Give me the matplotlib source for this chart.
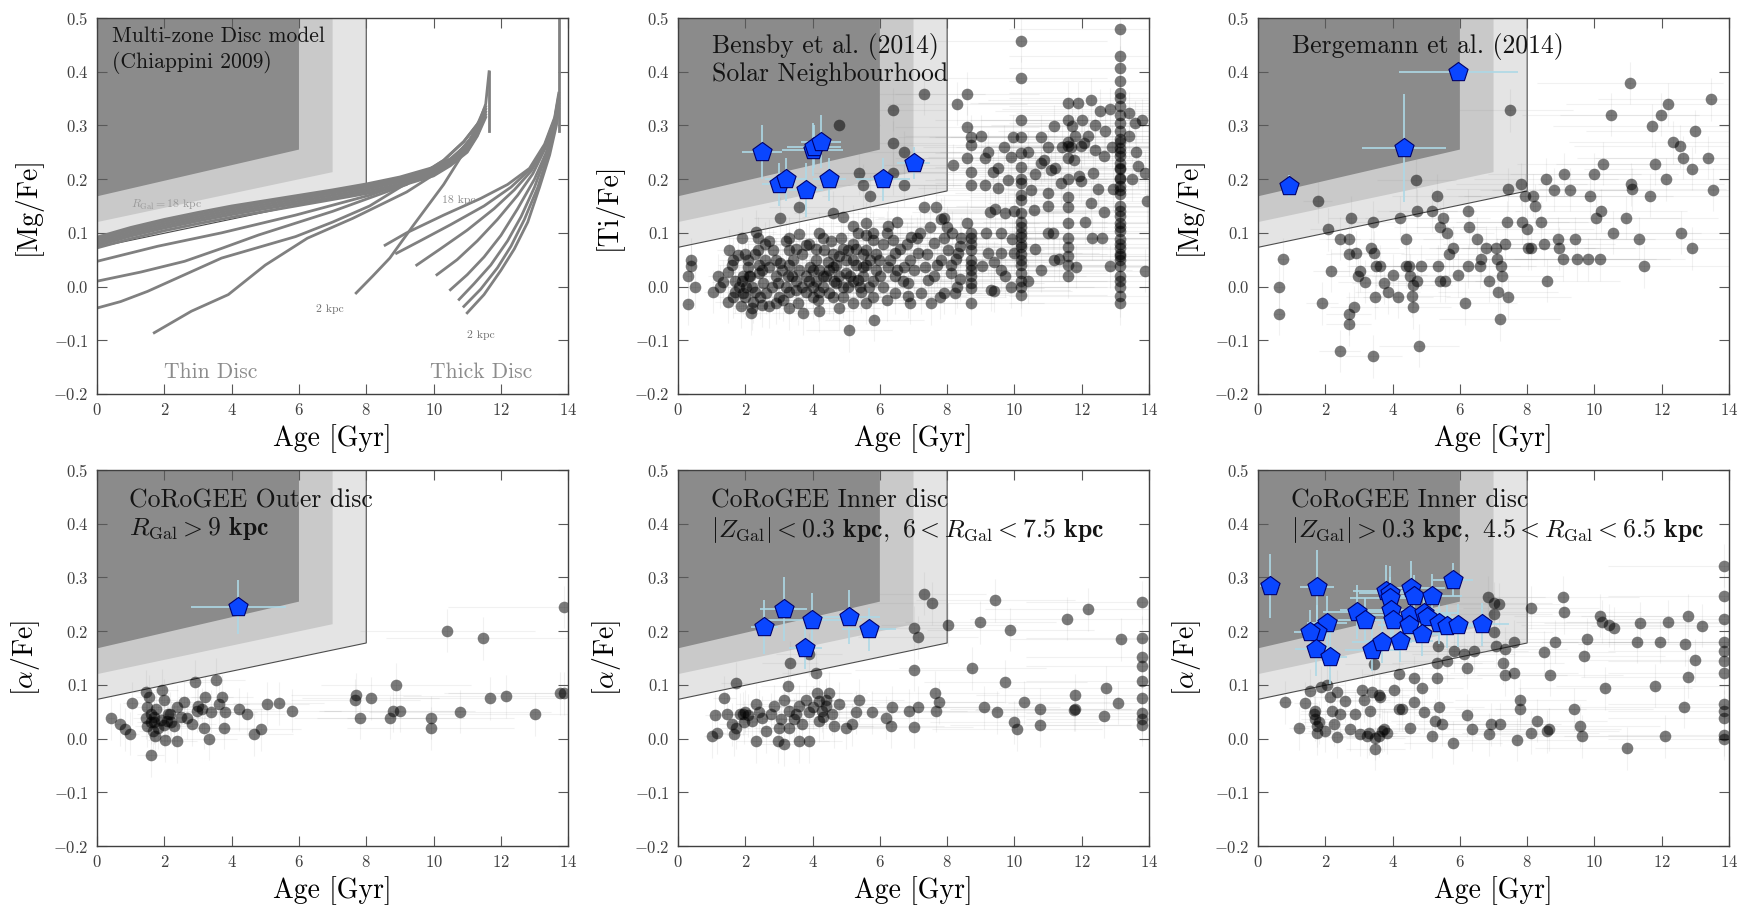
import matplotlib
matplotlib.use('Agg')
import matplotlib.pyplot as plt
from matplotlib.patches import Polygon

plt.rcParams['font.family'] = 'cmr10'
plt.rcParams['mathtext.fontset'] = 'cm'
plt.rcParams['axes.formatter.use_mathtext'] = True

# ---------------------------------------------------------------- data
# shaded "young alpha-rich" boxes: (age, abundance) corners
shade_light = [(0, 0.073), (8, 0.178), (8, 0.5), (0, 0.5)]
shade_mid = [(0, 0.12), (7, 0.213), (7, 0.5), (0, 0.5)]
shade_dark = [(0, 0.168), (6, 0.255), (6, 0.5), (0, 0.5)]

# Chiappini (2009) model tracks
thin_disc_age = [
    [0, 1, 2, 3, 4, 5, 6, 7, 8, 9, 10, 10.5, 11, 11.3, 11.55, 11.65],
    [0, 1, 2, 3, 4, 5, 6, 7, 8, 9, 10, 10.5, 11, 11.3, 11.55],
    [0, 1, 2, 3, 4, 5, 6, 7, 8, 9, 10, 10.5, 11, 11.3, 11.55],
    [0, 1, 2, 3, 4, 5, 6, 7, 8, 9, 10, 10.5, 11, 11.3, 11.55],
    [0, 1, 2, 3, 4, 5, 6, 7, 8, 9, 10, 10.5, 11, 11.3, 11.55],
    [0, 1, 2, 3, 4, 5, 6, 7, 8, 9, 10, 10.5, 11, 11.3, 11.55],
    [0, 1.8, 3.7, 5.9, 8.1, 9.8, 10.6, 11.1, 11.5],
    [0, 1.3, 2.6, 3.7, 4.8, 5.9, 7.0, 8.1, 9.2, 10.3, 10.9, 11.4],
    [0, 0.7, 1.5, 2.6, 3.7, 4.8, 5.9, 7.0, 8.1, 9.4, 10.3, 10.9, 11.4],
    [1.7, 2.8, 3.9, 5.0, 6.25, 7.6, 9.2, 10.3, 10.9, 11.4],
    [7.7, 8.2, 8.7, 9.4, 10.3, 10.8, 11.2, 11.5],
    [11.65, 11.65],
]
thin_disc_mgfe = [
    [0.092, 0.110, 0.125, 0.138, 0.150, 0.160, 0.170, 0.180, 0.191, 0.204, 0.222, 0.238, 0.265, 0.295, 0.34, 0.40],
    [0.088, 0.106, 0.121, 0.134, 0.146, 0.157, 0.167, 0.177, 0.188, 0.201, 0.219, 0.236, 0.262, 0.292, 0.335],
    [0.084, 0.102, 0.117, 0.130, 0.142, 0.153, 0.163, 0.174, 0.185, 0.198, 0.216, 0.233, 0.258, 0.288, 0.33],
    [0.080, 0.098, 0.113, 0.126, 0.138, 0.149, 0.159, 0.170, 0.181, 0.195, 0.213, 0.230, 0.255, 0.285, 0.325],
    [0.076, 0.094, 0.109, 0.122, 0.134, 0.145, 0.155, 0.166, 0.177, 0.191, 0.210, 0.228, 0.252, 0.282, 0.32],
    [0.072, 0.089, 0.104, 0.117, 0.129, 0.140, 0.151, 0.162, 0.173, 0.187, 0.206, 0.225, 0.250, 0.280, 0.315],
    [0.047, 0.075, 0.100, 0.133, 0.170, 0.207, 0.240, 0.275, 0.32],
    [0.010, 0.027, 0.047, 0.071, 0.096, 0.118, 0.140, 0.165, 0.190, 0.235, 0.270, 0.31],
    [-0.040, -0.028, -0.009, 0.022, 0.053, 0.073, 0.093, 0.120, 0.150, 0.200, 0.235, 0.270, 0.31],
    [-0.086, -0.046, -0.015, 0.040, 0.090, 0.127, 0.176, 0.220, 0.260, 0.30],
    [-0.012, 0.020, 0.053, 0.114, 0.190, 0.240, 0.287, 0.33],
    [0.29, 0.40],
]
thick_disc_age = [
    [8.56, 9.2, 10.3, 11.4, 12.2, 12.85, 13.3, 13.6, 13.72],
    [8.9, 9.6, 10.5, 11.5, 12.3, 12.9, 13.3, 13.6, 13.72],
    [9.5, 10.2, 11.0, 11.8, 12.4, 12.9, 13.3, 13.6, 13.72],
    [10.1, 10.7, 11.3, 11.9, 12.5, 12.95, 13.3, 13.6, 13.72],
    [10.5, 11.0, 11.5, 12.0, 12.5, 13.0, 13.35, 13.6, 13.72],
    [10.76, 11.2, 11.7, 12.2, 12.6, 13.0, 13.35, 13.62, 13.72],
    [10.9, 11.4, 11.9, 12.3, 12.7, 13.1, 13.4, 13.63, 13.72],
    [11.0, 11.5, 12.0, 12.4, 12.8, 13.15, 13.45, 13.65, 13.72],
    [13.72, 13.72],
]
thick_disc_mgfe = [
    [0.077, 0.100, 0.133, 0.164, 0.190, 0.220, 0.265, 0.315, 0.36],
    [0.062, 0.085, 0.115, 0.150, 0.185, 0.220, 0.262, 0.312, 0.355],
    [0.040, 0.070, 0.105, 0.145, 0.180, 0.215, 0.258, 0.310, 0.35],
    [0.022, 0.050, 0.085, 0.125, 0.170, 0.210, 0.255, 0.305, 0.345],
    [-0.006, 0.022, 0.055, 0.095, 0.145, 0.200, 0.250, 0.300, 0.34],
    [-0.024, 0.005, 0.040, 0.085, 0.130, 0.185, 0.245, 0.300, 0.34],
    [-0.037, -0.005, 0.035, 0.075, 0.125, 0.185, 0.245, 0.300, 0.335],
    [-0.049, -0.015, 0.030, 0.070, 0.120, 0.185, 0.245, 0.300, 0.33],
    [0.29, 0.50],
]

# Bensby et al. (2014)
bensby_age = [
    0.30, 0.30, 0.40, 0.40, 0.52, 1.24, 1.34, 1.53, 1.63, 1.78, 1.48, 1.63, 1.48, 1.93, 2.03,
    1.93, 2.08, 1.88, 2.18, 2.23, 2.42, 2.52, 2.62, 2.72, 2.72, 2.97, 3.02, 3.12, 3.26, 3.41,
    3.51, 3.56, 3.71, 3.81, 3.91, 4.01, 4.11, 4.15, 4.30, 4.35, 4.50, 4.60, 4.70, 4.80, 4.90,
    5.00, 5.04, 5.19, 5.19, 5.34, 5.49, 5.59, 5.69, 5.79, 5.89, 5.98, 5.84, 5.09, 1.91, 2.32,
    2.37, 3.02, 3.61, 3.61, 3.31, 3.81, 4.20, 4.60, 4.90, 4.85, 5.04, 5.19, 5.34, 5.59, 5.59,
    5.79, 5.39, 5.49, 5.71, 4.80, 2.37, 2.82, 2.13, 2.08, 1.70, 2.45, 2.90, 3.30, 3.70, 4.20,
    4.45, 4.00, 3.20, 2.70, 4.55, 4.65, 5.30, 5.45, 1.20, 1.05,
    7.31, 6.39, 6.39, 6.72, 6.39, 6.72, 8.59, 8.29, 8.59, 8.71, 8.71, 8.59, 8.71, 8.71, 8.17,
    7.31, 7.67, 7.92, 8.59, 8.71, 8.71, 8.71, 8.71, 8.71, 8.71, 8.71, 9.11, 9.11, 9.35, 9.50,
    9.80, 9.26, 9.71, 9.61, 9.20, 9.61, 9.31, 10.0,
    10.2, 10.2, 10.2, 10.2, 10.2, 10.2, 10.2, 10.2, 10.2, 10.2, 10.2, 10.2, 10.2, 10.2, 10.2, 10.2,
    9.95, 9.90, 10.49, 10.59, 10.79, 10.99, 11.18, 11.18, 10.89, 11.08, 11.38, 10.99, 11.58,
    11.58, 11.68, 11.78, 11.58, 11.58, 11.58, 11.58, 11.58, 11.58, 11.88, 12.07, 11.93, 11.83,
    13.13, 13.13, 13.13, 13.13, 13.13, 13.13, 13.13, 13.13, 13.13, 13.13, 13.13, 13.13, 13.13,
    13.13, 13.13, 13.13, 13.13, 13.13, 13.13, 13.13, 13.13, 13.13, 13.13, 13.13, 13.13, 13.13,
    13.13, 13.13, 13.13,
    12.27, 12.55, 12.83, 13.39, 13.59, 13.66, 13.89, 13.94, 13.89, 12.38, 12.66, 12.32, 12.49,
    12.27, 12.61, 12.83, 12.66, 11.71, 11.60, 11.99, 11.99, 11.33, 11.16, 13.50, 12.94,
    8.37, 8.26, 9.04, 9.38, 9.38, 9.71, 9.60, 9.93, 9.15, 9.43, 8.37, 8.15, 7.82,
    6.24, 6.39, 6.44, 6.24, 6.44, 6.73, 6.84, 6.93, 7.13, 7.33, 7.43, 7.62, 7.82, 8.02, 7.92,
    8.12, 8.32, 6.84, 6.44, 6.09, 7.23, 8.22, 7.52,
    1.8, 1.9, 2.0, 2.1, 2.2, 2.3, 2.4, 2.5, 2.6, 2.8, 2.9, 3.0, 3.1, 3.2, 3.3, 3.4, 3.5, 3.6,
    3.7, 3.8, 3.9, 4.0, 4.1, 4.2, 4.3, 4.4, 4.5, 4.6, 4.7, 4.8, 4.9, 5.0, 5.1, 5.2, 5.3, 5.4,
    5.5, 5.6, 5.7, 5.8, 5.9, 6.0, 6.1, 6.3, 6.5, 6.6, 6.7, 6.9, 7.0, 7.1, 7.4, 7.6, 7.7, 7.9,
    8.1, 8.3, 8.4,
    1.6, 1.7, 2.0, 2.3, 2.6, 2.9, 3.3, 3.5, 3.9, 4.1, 4.3, 4.6, 4.9, 5.2, 5.5, 5.8, 6.2, 6.5,
    6.8, 7.2, 7.5, 8.0,
    2.2, 2.5, 3.3, 4.2, 4.8, 5.6, 6.2, 6.9, 7.8,
    9.0, 9.2, 9.5, 9.7, 10.0, 10.4, 10.6, 10.8, 11.0, 11.2, 11.4, 11.8, 12.0, 12.2, 12.4, 12.7,
    12.9, 13.4, 13.6, 13.8, 12.1, 12.3, 10.6, 10.8, 11.0, 9.9, 10.4,
    8.71, 8.71, 8.71, 8.71, 10.2, 10.2, 10.2, 10.2, 10.2, 10.2, 10.2, 10.2, 11.58, 11.58, 11.58,
    11.58, 11.58, 13.13, 13.13, 13.13, 13.13, 13.13, 13.13, 13.13, 13.13, 13.13, 13.13, 13.13,
    13.13,
]
bensby_tife = [
    -0.032, 0.020, 0.038, 0.050, 0.000, 0.000, 0.009, 0.068, 0.050, 0.059, 0.028, -0.019, -0.028, 0.019, 0.000,
    -0.012, 0.037, -0.037, -0.050, -0.028, 0.025, 0.006, -0.012, 0.037, -0.037, 0.006, 0.043, -0.025, 0.019, 0.050,
    -0.006, -0.031, -0.050, 0.019, 0.037, 0.000, 0.050, -0.025, 0.019, 0.068, -0.012, 0.037, 0.006, 0.056, -0.019,
    0.025, 0.000, 0.050, -0.031, 0.012, 0.037, 0.068, 0.000, -0.019, 0.031, 0.050, -0.062, -0.081, 0.090, 0.102,
    0.090, 0.127, 0.148, 0.098, 0.068, 0.078, 0.099, 0.137, 0.130, 0.090, 0.068, 0.112, 0.100, 0.118, 0.096,
    0.087, 0.211, 0.189, 0.168, 0.300, 0.068, 0.068, 0.019, 0.050, 0.010, -0.020, -0.030, -0.010, 0.060, 0.030,
    0.045, -0.020, 0.085, 0.085, 0.085, 0.010, 0.070, -0.010, 0.020, -0.010,
    0.359, 0.329, 0.268, 0.250, 0.211, 0.189, 0.359, 0.340, 0.297, 0.279, 0.264, 0.239, 0.214, 0.189, 0.226,
    0.149, 0.149, 0.128, 0.118, 0.080, 0.068, 0.050, 0.031, 0.006, -0.003, -0.031, 0.239, 0.189, 0.214, 0.183,
    0.198, 0.139, 0.136, 0.099, 0.062, 0.031, -0.006, 0.062,
    0.458, 0.388, 0.310, 0.279, 0.248, 0.223, 0.192, 0.161, 0.136, 0.111, 0.093, 0.074, 0.050, 0.025, 0.000, -0.015,
    0.279, 0.242, 0.180, 0.143, 0.279, 0.099, 0.050, 0.298, 0.236, 0.217, 0.192, 0.174, 0.341,
    0.310, 0.260, 0.236, 0.167, 0.149, 0.118, 0.074, 0.056, 0.019, 0.341, 0.267, 0.205, 0.037,
    0.480, 0.430, 0.407, 0.382, 0.360, 0.351, 0.336, 0.320, 0.305, 0.289, 0.274, 0.258, 0.243,
    0.230, 0.218, 0.203, 0.187, 0.172, 0.150, 0.131, 0.119, 0.103, 0.088, 0.072, 0.057, 0.038,
    0.011, -0.017, -0.031,
    0.348, 0.327, 0.330, 0.323, 0.305, 0.224, 0.212, 0.159, 0.029, 0.255, 0.243, 0.212, 0.181,
    0.156, 0.091, 0.038, 0.138, 0.299, 0.261, 0.261, 0.196, 0.051, 0.100, 0.200, 0.181,
    0.014, 0.051, 0.038, 0.045, -0.008, 0.020, 0.063, 0.088, 0.100, 0.144, 0.076, 0.100, 0.125,
    0.112, 0.087, 0.062, 0.037, 0.019, 0.037, 0.006, 0.093, 0.062, 0.037, 0.012, 0.081, 0.050, 0.068, -0.012,
    0.025, 0.062, -0.018, -0.012, 0.000, -0.012, -0.012, -0.031,
    0.00, 0.01, -0.02, 0.02, 0.00, -0.01, 0.04, 0.03, 0.05, 0.00, 0.02, -0.02, 0.03, 0.00, 0.04, 0.02, 0.01, 0.03,
    0.00, -0.01, 0.01, 0.03, 0.01, -0.01, 0.00, 0.02, 0.03, -0.02, 0.04, 0.02, 0.00, 0.05, 0.02, 0.01, 0.04, 0.00,
    0.02, 0.04, 0.05, 0.01, 0.06, 0.02, 0.08, 0.05, 0.03, 0.07, 0.01, 0.05, 0.03, 0.09, 0.06, 0.02, 0.04, 0.09,
    0.04, 0.00, 0.09,
    0.04, -0.01, 0.06, 0.06, 0.08, 0.05, 0.09, 0.07, 0.08, 0.07, 0.09, 0.06, 0.07, 0.08, 0.06, 0.10, 0.10, 0.12,
    0.08, 0.10, 0.11, 0.11,
    -0.040, -0.035, -0.040, -0.045, -0.040, -0.030, -0.025, -0.030, -0.020,
    0.28, 0.25, 0.22, 0.26, 0.14, 0.25, 0.21, 0.23, 0.26, 0.22, 0.26, 0.28, 0.31, 0.28, 0.30, 0.29,
    0.26, 0.28, 0.25, 0.31, 0.12, 0.09, 0.07, 0.03, 0.15, 0.00, 0.01,
    0.09, 0.10, 0.04, 0.02, 0.20, 0.17, 0.12, 0.10, 0.08, 0.06, 0.04, 0.01, 0.27, 0.24, 0.20,
    0.09, 0.04, 0.27, 0.25, 0.22, 0.20, 0.18, 0.14, 0.11, 0.08, 0.06, 0.05, 0.02,
    0.00,
]
bensby_young_age = [2.5, 3.0, 3.2, 3.8, 4.0, 4.05, 4.25, 4.5, 6.1, 7.0]
bensby_young_tife = [0.25, 0.19, 0.20, 0.18, 0.255, 0.26, 0.27, 0.20, 0.20, 0.23]
bensby_young_age_err = [0.6, 0.5, 0.6, 0.5, 0.9, 0.8, 0.6, 0.5, 0.8, 0.5]
bensby_young_tife_err = [0.05, 0.04, 0.04, 0.05, 0.05, 0.04, 0.05, 0.04, 0.04, 0.03]

# Bergemann et al. (2014)
bergemann_age = [
    0.62, 0.62, 0.75, 1.77, 1.91, 2.08, 2.17, 2.43, 2.43, 2.69, 2.69, 2.76, 2.69, 2.69, 2.85,
    2.91, 2.96, 3.02, 3.18, 3.35, 3.43, 3.46, 3.52, 3.63, 3.47, 3.43, 3.74, 3.85, 4.01, 4.17,
    4.23, 4.40, 4.40, 4.49, 4.51, 4.57, 4.60, 4.62, 4.73, 4.73, 4.71, 4.79, 4.84, 5.18, 5.31,
    5.34, 5.40, 5.40, 5.51, 5.62, 5.56, 5.68, 5.79, 5.95, 6.15, 6.23, 6.23, 6.26, 6.52, 6.61,
    6.63, 6.78, 6.86, 7.06, 7.11, 7.14, 7.19, 7.22, 7.26, 7.33, 7.39, 7.44, 7.48, 7.44, 7.83,
    7.85, 7.94, 7.99, 8.02, 8.10, 8.16, 8.22, 8.40, 8.49, 8.55, 8.60, 8.80, 8.93, 8.96, 9.05,
    9.10, 9.27, 9.43, 9.47, 9.80, 9.87, 9.99, 10.04, 10.15, 10.20, 10.26, 10.48, 10.54, 10.93,
    11.06, 11.09, 11.12, 11.31, 11.48, 11.64, 11.70, 11.79, 11.98, 12.12, 12.20, 12.34, 12.53,
    12.64, 12.58, 12.90, 12.91, 13.00, 13.36, 13.47, 13.52,
]
bergemann_mgfe = [
    0.000, -0.051, 0.051, 0.159, -0.031, 0.107, 0.029, 0.089, -0.120, 0.089, 0.060, 0.128, -0.051, -0.070, -0.039,
    0.063, 0.020, 0.029, 0.009, 0.072, 0.120, 0.063, 0.038, 0.038, -0.020, -0.130, 0.007, -0.011, 0.021, -0.019,
    0.128, 0.089, 0.038, 0.038, 0.020, -0.017, -0.039, 0.002, 0.011, 0.141, 0.198, -0.110, 0.038, 0.141, 0.169,
    0.038, 0.011, 0.110, 0.128, 0.100, 0.011, 0.060, 0.072, 0.021, -0.031, 0.038, 0.141, 0.110, 0.089, 0.038,
    0.051, 0.072, 0.011, 0.072, 0.051, -0.011, -0.061, 0.038, 0.020, 0.079, 0.120, -0.020, 0.328, 0.181, 0.190,
    0.120, 0.169, 0.108, 0.071, 0.071, 0.169, 0.150, 0.120, 0.079, 0.200, 0.011, 0.180, 0.089, 0.071, 0.051,
    0.209, 0.180, 0.089, 0.051, 0.051, 0.169, 0.209, 0.128, 0.051, 0.141, 0.229, 0.320, 0.100, 0.128,
    0.379, 0.190, 0.181, 0.089, 0.038, 0.169, 0.299, 0.229, 0.320, 0.200, 0.339, 0.269, 0.261,
    0.240, 0.100, 0.219, 0.071, 0.289, 0.240, 0.349, 0.180,
]
bergemann_young_age = [0.92, 4.35, 5.95]
bergemann_young_mgfe = [0.187, 0.258, 0.399]
bergemann_young_age_err = [0.2, 1.25, 1.77]
bergemann_young_mgfe_err = [0.02, 0.10, 0.01]

# CoRoGEE outer disc
outer_age = [
    0.42, 0.69, 0.84, 0.99, 1.04, 1.44, 1.54, 1.49, 1.44, 1.59, 1.49, 1.69, 1.73, 1.59, 1.93,
    1.98, 2.08, 2.18, 2.28, 2.03, 2.38, 2.38, 2.58, 2.68, 2.82, 2.92, 2.97, 3.12, 3.22, 3.17,
    3.32, 3.52, 3.62, 3.71, 3.76, 3.81, 4.21, 4.46, 4.66, 4.86, 5.05, 5.40, 5.80,
    1.60, 1.70, 1.80, 1.90, 2.00, 2.10, 2.20, 1.75, 1.65, 2.50, 3.00, 3.40,
    7.70, 7.67, 7.81, 8.14, 8.72, 8.80, 8.88, 8.99, 9.91, 9.91, 10.41, 10.79, 11.46, 11.68,
    12.14, 13.00, 13.75, 13.89, 13.89,
]
outer_afe = [
    0.038, 0.027, 0.017, 0.009, 0.066, 0.087, 0.078, 0.059, 0.039, 0.046, 0.024, 0.030, 0.004, -0.031, 0.090,
    0.071, 0.033, 0.046, 0.024, -0.003, -0.005, 0.059, 0.068, 0.039, 0.027, 0.106, 0.052, 0.055, 0.078, 0.020,
    0.000, 0.110, 0.065, 0.078, 0.020, 0.049, 0.055, 0.046, 0.008, 0.017, 0.065, 0.066, 0.052,
    0.030, 0.040, 0.020, 0.035, 0.025, 0.045, 0.030, 0.055, 0.015, 0.040, 0.060, 0.050,
    0.082, 0.071, 0.039, 0.075, 0.039, 0.052, 0.100, 0.052, 0.039, 0.019, 0.201, 0.050, 0.187, 0.075,
    0.079, 0.045, 0.084, 0.084, 0.245,
]
outer_young_age = [4.2]
outer_young_afe = [0.245]
outer_young_age_err = [1.4]
outer_young_afe_err = [0.05]

# CoRoGEE inner disc, |Z| < 0.3 kpc
inner_low_age = [
    1.02, 1.09, 1.15, 1.37, 1.47, 1.72, 1.62, 1.67, 1.72, 1.92, 2.07, 2.21, 2.31, 2.31, 2.51,
    2.61, 2.86, 2.96, 3.06, 3.15, 3.15, 3.30, 3.30, 3.33, 3.28, 3.45, 3.60, 3.70, 3.80, 3.90,
    3.90, 4.00, 4.14, 4.11, 4.19, 4.29, 4.39, 4.49, 4.59, 4.64, 4.79, 4.98, 5.18, 5.28, 5.38,
    5.77, 6.17, 6.37, 6.32, 6.86, 7.01, 7.14, 7.01, 7.01, 7.14, 7.55, 7.63, 7.75, 7.67, 8.03,
    8.74, 8.99, 9.09, 9.48, 9.73, 9.88, 9.98, 10.08, 10.27, 10.77, 10.77, 11.56, 11.81, 11.81,
    7.32, 9.43, 12.18, 12.72, 12.66, 13.07, 13.16, 13.80, 13.80, 13.80, 13.80, 13.80, 13.80,
    13.80, 13.80, 13.80, 11.77,
    1.85, 2.00, 1.95, 3.60, 3.90, 4.30, 4.40, 3.50, 2.75, 3.00, 2.40, 4.20,
]
inner_low_afe = [
    0.004, 0.044, 0.011, 0.076, 0.046, 0.103, 0.027, 0.008, 0.020, 0.046, 0.043, 0.033, 0.065, -0.005, 0.039,
    0.014, 0.060, -0.005, 0.036, 0.071, -0.011, 0.052, 0.020, 0.141, 0.098, 0.036, -0.005, 0.027, 0.071, -0.005,
    0.157, 0.058, 0.084, 0.123, 0.033, 0.052, 0.071, 0.084, 0.046, 0.023, 0.065, 0.020, 0.027, 0.049, 0.071,
    0.049, 0.039, 0.058, 0.023, 0.052, 0.022, 0.058, 0.128, 0.206, 0.189, 0.252, 0.085, 0.068, 0.052, 0.212,
    0.131, 0.217, 0.058, 0.049, 0.106, 0.203, 0.030, 0.017, 0.068, 0.055, 0.025, 0.223, 0.081, 0.055,
    0.270, 0.258, 0.241, 0.095, 0.042, 0.067, 0.185, 0.254, 0.188, 0.151, 0.135, 0.108, 0.075,
    0.048, 0.036, 0.026, 0.054,
    0.045, 0.050, 0.030, 0.060, 0.050, 0.040, 0.060, 0.045, 0.045, 0.020, 0.050, 0.070,
]
inner_low_young_age = [2.56, 3.14, 3.79, 3.98, 5.09, 5.68]
inner_low_young_afe = [0.208, 0.241, 0.169, 0.221, 0.227, 0.204]
inner_low_young_age_err = [0.4, 0.7, 0.5, 1.5, 0.9, 0.8]
inner_low_young_afe_err = [0.05, 0.06, 0.04, 0.05, 0.05, 0.04]

# CoRoGEE inner disc, |Z| > 0.3 kpc
inner_high_age = [
    0.81, 1.21, 1.41, 1.56, 1.70, 1.70, 1.75, 1.87, 2.05, 2.15, 2.20, 2.25, 2.35, 2.35, 2.60,
    2.74, 2.89, 3.04, 3.09, 3.14, 3.24, 3.34, 3.39, 3.44, 3.49, 3.49, 3.59, 3.64, 3.74, 3.84,
    4.03, 4.18, 4.18, 4.28, 4.53, 4.63, 4.65, 4.88, 4.93, 5.17, 5.27, 5.32, 5.32, 5.37, 5.34,
    5.47, 5.62, 5.80, 5.82, 6.11, 6.21, 6.21, 6.36, 6.41, 6.86, 6.91, 7.01, 7.06, 7.20, 7.28,
    7.35, 7.35, 7.60, 7.60, 7.70, 7.80, 7.80, 8.10, 8.30, 8.49, 8.59, 8.64, 8.69, 8.84, 9.38,
    9.56, 9.63, 9.68, 9.78, 10.31, 10.22, 10.42, 10.57, 10.97, 11.27, 11.35, 11.81, 11.94,
    12.11, 12.20,
    6.83, 7.00, 7.17, 7.00, 8.11, 9.07, 9.10, 10.15, 12.78, 13.19, 12.99, 12.78, 12.67, 12.69,
    13.86, 13.86, 13.86, 13.86, 13.86, 13.86, 13.86, 13.86, 13.86, 13.86, 13.86, 13.86,
    1.65, 1.80, 1.75, 2.00, 3.30, 3.60, 3.70, 2.45,
]
inner_high_afe = [
    0.068, 0.019, 0.066, 0.089, 0.052, 0.036, 0.024, 0.096, 0.100, 0.078, 0.052, 0.027, 0.003, 0.087, 0.070,
    0.017, 0.046, 0.008, 0.090, 0.071, 0.004, 0.052, 0.087, 0.138, -0.019, 0.001, 0.081, 0.078, 0.017, 0.011,
    0.090, 0.121, 0.055, 0.055, 0.020, 0.068, 0.113, 0.094, 0.049, 0.004, 0.033, 0.113, 0.141, 0.059, 0.172,
    0.027, 0.145, -0.008, 0.164, 0.157, 0.132, 0.043, 0.017, 0.164, 0.008, 0.027, 0.199, 0.173, 0.027, 0.141,
    0.119, 0.167, 0.180, 0.122, -0.002, 0.071, 0.055, 0.011, 0.033, 0.161, 0.014, 0.017, 0.119, 0.180, 0.055,
    0.024, 0.004, 0.154, 0.185, 0.094, 0.218, 0.211, 0.205, -0.018, 0.180, 0.215, 0.098, 0.180,
    0.004, 0.218,
    0.263, 0.252, 0.250, 0.232, 0.244, 0.263, 0.235, 0.229, 0.229, 0.210, 0.146, 0.115, 0.059, 0.176,
    0.322, 0.266, 0.222, 0.179, 0.163, 0.145, 0.123, 0.064, 0.051, 0.039, 0.007, 0.000,
    0.045, 0.030, 0.010, 0.015, 0.010, 0.005, 0.015, 0.045,
]
inner_high_young_age = [
    0.35, 1.75, 3.81, 3.91, 3.93, 4.55, 4.63, 5.17, 5.80, 3.95, 4.01, 4.53, 4.48, 4.93, 5.02,
    5.37, 5.62, 5.94, 2.94, 3.19, 2.05, 1.75, 1.56, 1.71, 2.15, 3.39, 3.69, 4.21, 4.88, 6.66,
]
inner_high_young_afe = [
    0.284, 0.282, 0.274, 0.271, 0.261, 0.280, 0.265, 0.266, 0.296, 0.240, 0.221, 0.230, 0.211, 0.233, 0.227,
    0.216, 0.209, 0.211, 0.236, 0.221, 0.216, 0.199, 0.199, 0.167, 0.152, 0.165, 0.180, 0.182, 0.194, 0.213,
]
inner_high_young_age_err = [
    0.3, 0.5, 1.0, 0.9, 1.2, 1.0, 0.8, 0.9, 0.6, 1.5, 0.8, 1.2, 0.9, 1.0, 0.8,
    0.7, 0.9, 0.8, 1.0, 0.8, 0.6, 0.5, 0.5, 0.6, 0.5, 0.8, 0.9, 1.0, 0.8, 0.8,
]
inner_high_young_afe_err = [
    0.06, 0.07, 0.05, 0.05, 0.04, 0.05, 0.04, 0.04, 0.03, 0.05, 0.04, 0.05, 0.04, 0.04, 0.04,
    0.04, 0.04, 0.04, 0.05, 0.04, 0.05, 0.05, 0.04, 0.05, 0.05, 0.04, 0.04, 0.04, 0.04, 0.04,
]

# typical uncertainties of the field stars
age_rel_err = 0.25
abund_err = 0.04

BLUE = '#0a46ff'


def shade(ax):
    """grey boxes marking the young alpha-rich region"""
    ax.add_patch(Polygon(shade_light, closed=True, facecolor='#e4e4e4',
                         edgecolor='0.3', lw=0.8, zorder=0))
    ax.add_patch(Polygon(shade_mid, closed=True, facecolor='#c9c9c9',
                         edgecolor='none', zorder=0))
    ax.add_patch(Polygon(shade_dark, closed=True, facecolor='#8b8b8b',
                         edgecolor='none', zorder=0))


def style(ax, ylabel):
    ax.set_xlim(0, 14)
    ax.set_ylim(-0.2, 0.5)
    ax.set_xticks([0, 2, 4, 6, 8, 10, 12, 14])
    ax.set_yticks([-0.2, -0.1, 0.0, 0.1, 0.2, 0.3, 0.4, 0.5])
    ax.tick_params(direction='in', top=True, right=True, length=7, width=0.8,
                   color='0.35', labelsize=12, labelcolor='0.25', pad=6)
    for sp in ax.spines.values():
        sp.set_color('0.25')
        sp.set_linewidth(1.0)
    ax.set_xlabel('Age [Gyr]', fontsize=20, labelpad=4)
    ax.set_ylabel(ylabel, fontsize=20, labelpad=8)


def stars(ax, age, abund, y_age, y_abund, y_age_err, y_abund_err):
    """field stars (grey) and young alpha-rich stars (blue pentagons)"""
    age_err = [a * age_rel_err for a in age]
    ax.errorbar(age, abund, xerr=age_err, yerr=abund_err, fmt='none',
                ecolor='0.55', elinewidth=0.8, alpha=0.12, capsize=0, zorder=1)
    ax.scatter(age, abund, s=70, color='black', alpha=0.52, linewidths=0, zorder=2)
    ax.errorbar(y_age, y_abund, xerr=y_age_err, yerr=y_abund_err, fmt='none',
                ecolor='#add8e6', elinewidth=1.2, capsize=0, zorder=3)
    ax.scatter(y_age, y_abund, s=210, marker='p', color=BLUE, edgecolors='#00006b',
               linewidths=0.8, zorder=4)


def label(ax, x, y, s, size=18.5, spacing=1.12):
    ax.text(x, y, s, fontsize=size, ha='left', va='top', linespacing=spacing,
            color='0.08', zorder=5)


fig = plt.figure(figsize=(17.46, 9.09), dpi=100)
lefts = [0.0556, 0.3883, 0.7205]
width = 0.2698
bottoms = [0.5666, 0.0693]
height = 0.4136
axes = [[fig.add_axes([l, b, width, height]) for l in lefts] for b in bottoms]

# model panel
ax = axes[0][0]
shade(ax)
for xs, ys in zip(thin_disc_age, thin_disc_mgfe):
    ax.plot(xs, ys, color='0.5', lw=2.0, zorder=2)
for xs, ys in zip(thick_disc_age, thick_disc_mgfe):
    ax.plot(xs, ys, color='0.5', lw=2.0, zorder=2)
label(ax, 0.45, 0.485, 'Multi-zone Disc model\n(Chiappini 2009)', size=15.5, spacing=1.3)
ax.text(1.0, 0.152, r'$R_{\rm Gal}=18$ kpc', fontsize=8.5, color='0.6', va='center')
ax.text(10.25, 0.161, '18 kpc', fontsize=8.5, color='0.55', va='center')
ax.text(6.5, -0.041, '2 kpc', fontsize=8.5, color='0.45', va='center')
ax.text(11.0, -0.09, '2 kpc', fontsize=8.5, color='0.45', va='center')
ax.text(2.0, -0.17, 'Thin Disc', fontsize=15.5, color='0.55', va='baseline')
ax.text(9.88, -0.17, 'Thick Disc', fontsize=15.5, color='0.55', va='baseline')
style(ax, '[Mg/Fe]')

# Bensby
ax = axes[0][1]
shade(ax)
stars(ax, bensby_age, bensby_tife, bensby_young_age, bensby_young_tife,
      bensby_young_age_err, bensby_young_tife_err)
label(ax, 1.0, 0.472, 'Bensby et al. (2014)\nSolar Neighbourhood')
style(ax, '[Ti/Fe]')

# Bergemann
ax = axes[0][2]
shade(ax)
stars(ax, bergemann_age, bergemann_mgfe, bergemann_young_age, bergemann_young_mgfe,
      bergemann_young_age_err, bergemann_young_mgfe_err)
label(ax, 1.0, 0.472, 'Bergemann et al. (2014)')
style(ax, '[Mg/Fe]')

# CoRoGEE outer
ax = axes[1][0]
shade(ax)
stars(ax, outer_age, outer_afe, outer_young_age, outer_young_afe,
      outer_young_age_err, outer_young_afe_err)
label(ax, 0.95, 0.465, 'CoRoGEE Outer disc\n' + r'$R_{\rm Gal}>9$ $\mathbf{kpc}$')
style(ax, r'[$\alpha$/Fe]')

# CoRoGEE inner, low Z
ax = axes[1][1]
shade(ax)
stars(ax, inner_low_age, inner_low_afe, inner_low_young_age, inner_low_young_afe,
      inner_low_young_age_err, inner_low_young_afe_err)
label(ax, 0.98, 0.465, 'CoRoGEE Inner disc\n'
      + r'$|Z_{\rm Gal}|<0.3$ $\mathbf{kpc,}$ $6<R_{\rm Gal}<7.5$ $\mathbf{kpc}$')
style(ax, r'[$\alpha$/Fe]')

# CoRoGEE inner, high Z
ax = axes[1][2]
shade(ax)
stars(ax, inner_high_age, inner_high_afe, inner_high_young_age, inner_high_young_afe,
      inner_high_young_age_err, inner_high_young_afe_err)
label(ax, 0.98, 0.465, 'CoRoGEE Inner disc\n'
      + r'$|Z_{\rm Gal}|>0.3$ $\mathbf{kpc,}$ $4.5<R_{\rm Gal}<6.5$ $\mathbf{kpc}$')
style(ax, r'[$\alpha$/Fe]')

fig.savefig('out.png', dpi=100)
